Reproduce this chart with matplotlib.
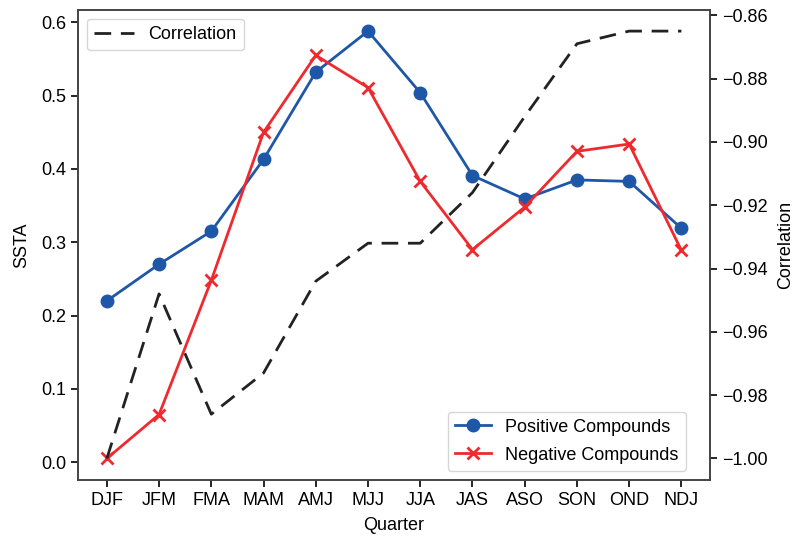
import numpy as np
import matplotlib.pyplot as plt

plt.rcParams['font.family'] = ['Liberation Sans', 'DejaVu Sans']
plt.rcParams['font.size'] = 13

quarters = ['DJF', 'JFM', 'FMA', 'MAM', 'AMJ', 'MJJ', 'JJA', 'JAS', 'ASO', 'SON', 'OND', 'NDJ']
positive = [0.220, 0.270, 0.315, 0.413, 0.532, 0.588, 0.504, 0.391, 0.359, 0.385, 0.383, 0.319]
negative = [0.005, 0.065, 0.248, 0.450, 0.555, 0.511, 0.383, 0.290, 0.348, 0.424, 0.434, 0.289]
correlation = [-1.000, -0.948, -0.986, -0.973, -0.944, -0.932, -0.932, -0.916, -0.892, -0.869, -0.865, -0.865]

x = np.arange(len(quarters))

fig, ax = plt.subplots(figsize=(7.97, 5.41), dpi=100)
fig.subplots_adjust(left=0.098, right=0.891, top=0.982, bottom=0.113)

ax.plot(x, positive, color='#1f57a8', marker='o', markersize=9, lw=2, label='Positive Compounds')
ax.plot(x, negative, color='#ee2a2e', marker='x', markersize=9, mew=2, lw=2, label='Negative Compounds')
ax.set_xticks(x)
ax.set_xticklabels(quarters)
ax.set_xlabel('Quarter', labelpad=6)
ax.set_ylabel('SSTA', labelpad=8)
ax.legend(loc='lower right', bbox_to_anchor=(0.976, 0.0), fontsize=13,
          handlelength=2.0, labelspacing=0.6)

ax2 = ax.twinx()
ax2.plot(x, correlation, color='#222222', ls=(0, (6, 3.5)), lw=2, label='Correlation')
ax2.set_ylabel('Correlation', labelpad=7)
ax2.legend(loc='upper left', fontsize=13, handlelength=2.2)

for a in (ax, ax2):
    a.tick_params(direction='out', length=5, width=1.2, labelsize=13)
    for s in a.spines.values():
        s.set_color('#444444')
        s.set_linewidth(1.2)

fig.savefig('out.png')
